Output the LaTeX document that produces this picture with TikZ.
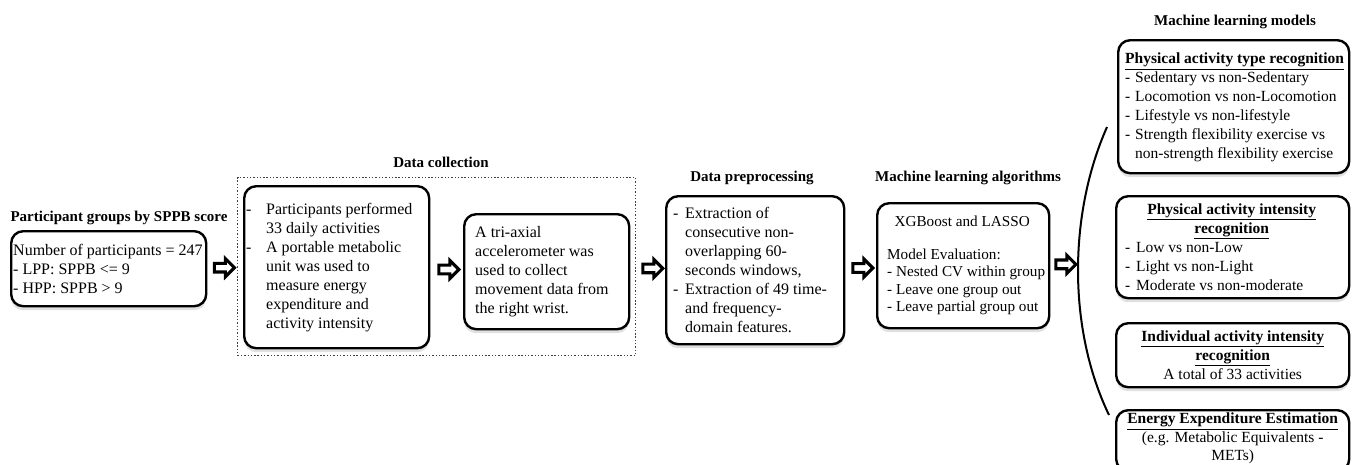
\documentclass[tikz,border=0pt]{standalone}
\usepackage{fontspec}
\setmainfont{Liberation Serif}
\usetikzlibrary{shapes.arrows,calc,shadows}
\newcommand{\dashitem}[1]{\makebox[#1][l]{-}}
\newcommand{\contind}[1]{\hspace*{#1}}
\begin{document}
\begin{tikzpicture}[x=1pt,y=-1pt,
  box/.style={draw, line width=2.4pt, rounded corners=12pt, anchor=north west, inner sep=0pt, fill=white,
    drop shadow={shadow xshift=0pt, shadow yshift=-4pt, opacity=0.12, fill=black}},
  txt/.style={align=left, inner sep=0pt, font=\fontsize{16}{19}\selectfont},
  rtxt/.style={align=left, inner sep=0pt, font=\fontsize{15.5}{19}\selectfont},
  ctxt/.style={align=center, inner sep=0pt, font=\fontsize{15.5}{19}\selectfont},
  ttl/.style={inner sep=0pt, font=\bfseries\fontsize{15}{18}\selectfont},
  barrow/.style={single arrow, draw, line width=3.1pt, fill=white, minimum height=20pt,
    text height=0pt, text depth=0pt, text width=0pt, inner xsep=0pt, inner ysep=2.8pt,
    single arrow head extend=4.6pt},
  dotbox/.style={draw=black!75, dash pattern=on 1.4pt off 1.9pt, line width=1.3pt, anchor=north west, inner sep=0pt},
  brace/.style={line width=2pt}
]
\fill[white] (0,0) rectangle (1355,464);
\useasboundingbox (0,0) rectangle (1355,464);

% Participant groups
\node[ttl] (tP) at (119,218) {Participant groups by SPPB score};
\node[box, minimum width=195pt, minimum height=75pt] (P) at (10,230) {};
\node[txt, anchor=west] (Pt) at ([xshift=3pt]P.west) {Number of participants = 247\\- LPP: SPPB <= 9\\- HPP: SPPB > 9};

% Data collection
\node[ttl] (tDC) at (441,162) {Data collection};
\node[dotbox, minimum width=398pt, minimum height=178pt] (DC) at (237,177) {};
\node[box, minimum width=185pt, minimum height=162pt] (A) at (243,185) {};
\node[txt, anchor=west] (At) at ([xshift=3pt]A.west) {\dashitem{20pt}Participants performed\\
\contind{20pt}33 daily activities\\
\dashitem{20pt}A portable metabolic\\
\contind{20pt}unit was used to\\
\contind{20pt}measure energy\\
\contind{20pt}expenditure and\\
\contind{20pt}activity intensity};
\node[box, minimum width=165pt, minimum height=115pt] (B) at (463,213) {};
\node[txt, anchor=west] (Bt) at ([xshift=12pt]B.west) {A tri-axial\\accelerometer was\\used to collect\\movement data from\\the right wrist.};

% Data preprocessing
\node[ttl] (tC) at (752,178) {Data preprocessing};
\node[box, minimum width=178pt, minimum height=148pt] (C) at (665,195) {};
\node[txt, anchor=west] (Ct) at ([xshift=8pt]C.west) {\dashitem{12pt}Extraction of\\
\contind{12pt}consecutive non-\\
\contind{12pt}overlapping 60-\\
\contind{12pt}seconds windows,\\
\dashitem{12pt}Extraction of 49 time-\\
\contind{12pt}and frequency-\\
\contind{12pt}domain features.};

% ML algorithms
\node[ttl] (tD) at (968,178) {Machine learning algorithms};
\node[box, minimum width=172pt, minimum height=125pt] (D) at (876,202) {};
\node[align=left, inner sep=0pt, font=\fontsize{15.2}{17.5}\selectfont, anchor=west] (Dt) at ([xshift=11pt]D.west)
 {\makebox[150pt]{XGBoost and LASSO}\\[15pt]
 Model Evaluation:\\
 - Nested CV within group\\
 - Leave one group out\\
 - Leave partial group out};

% ML models
\node[ttl] (tM) at (1235,22) {Machine learning models};
\node[box, minimum width=231pt, minimum height=133pt] (E) at (1117,39) {};
\node[rtxt, anchor=west] (Et) at ([xshift=8pt,yshift=-1pt]E.west) {\underline{\textbf{Physical activity type recognition}}\\
\dashitem{10pt}Sedentary vs non-Sedentary\\
\dashitem{10pt}Locomotion vs non-Locomotion\\
\dashitem{10pt}Lifestyle vs non-lifestyle\\
\dashitem{10pt}Strength flexibility exercise vs\\
\contind{10pt}non-strength flexibility exercise};

\node[box, minimum width=233pt, minimum height=102pt] (F) at (1115,195) {};
\node[rtxt, anchor=west] (Ft) at ([xshift=10pt]F.west) {\makebox[213pt]{\underline{\textbf{Physical activity intensity}}}\\
\makebox[213pt]{\underline{\textbf{recognition}}}\\
\dashitem{11pt}Low vs non-Low\\
\dashitem{11pt}Light vs non-Light\\
\dashitem{11pt}Moderate vs non-moderate};

\node[box, minimum width=233pt, minimum height=64pt] (G) at (1115,322) {};
\node[ctxt] (Gt) at (G.center) {\underline{\textbf{Individual activity intensity}}\\
\underline{\textbf{recognition}}\\
A total of 33 activities};

\node[box, minimum width=233pt, minimum height=61pt] (H) at (1115,409) {};
\node[ctxt, font=\fontsize{15.5}{18.5}\selectfont] (Ht) at ([yshift=2pt]H.center) {\underline{\textbf{Energy Expenditure Estimation}}\\
(e.g. Metabolic Equivalents -\\
METs)};

% bracket curve
\coordinate (bTop) at (1107,127);
\coordinate (bBot) at (1109,415);
\coordinate (bMid) at (1077,263);
\draw[brace] (bTop) .. controls (1068,215) and (1068,330) .. (bBot);

% block arrows
\node[barrow] (ar1) at ($(P.east)!0.5!(DC.west)$) {};
\node[barrow] (ar2) at ($(A.east)!0.5!(B.west)$) {};
\node[barrow] (ar3) at ($(DC.east)!0.5!(C.west)$) {};
\node[barrow] (ar4) at ($(C.east)!0.5!(D.west)$) {};
\node[barrow] (ar5) at ($(D.east)!0.5!(bMid)$) {};
\end{tikzpicture}
\end{document}
